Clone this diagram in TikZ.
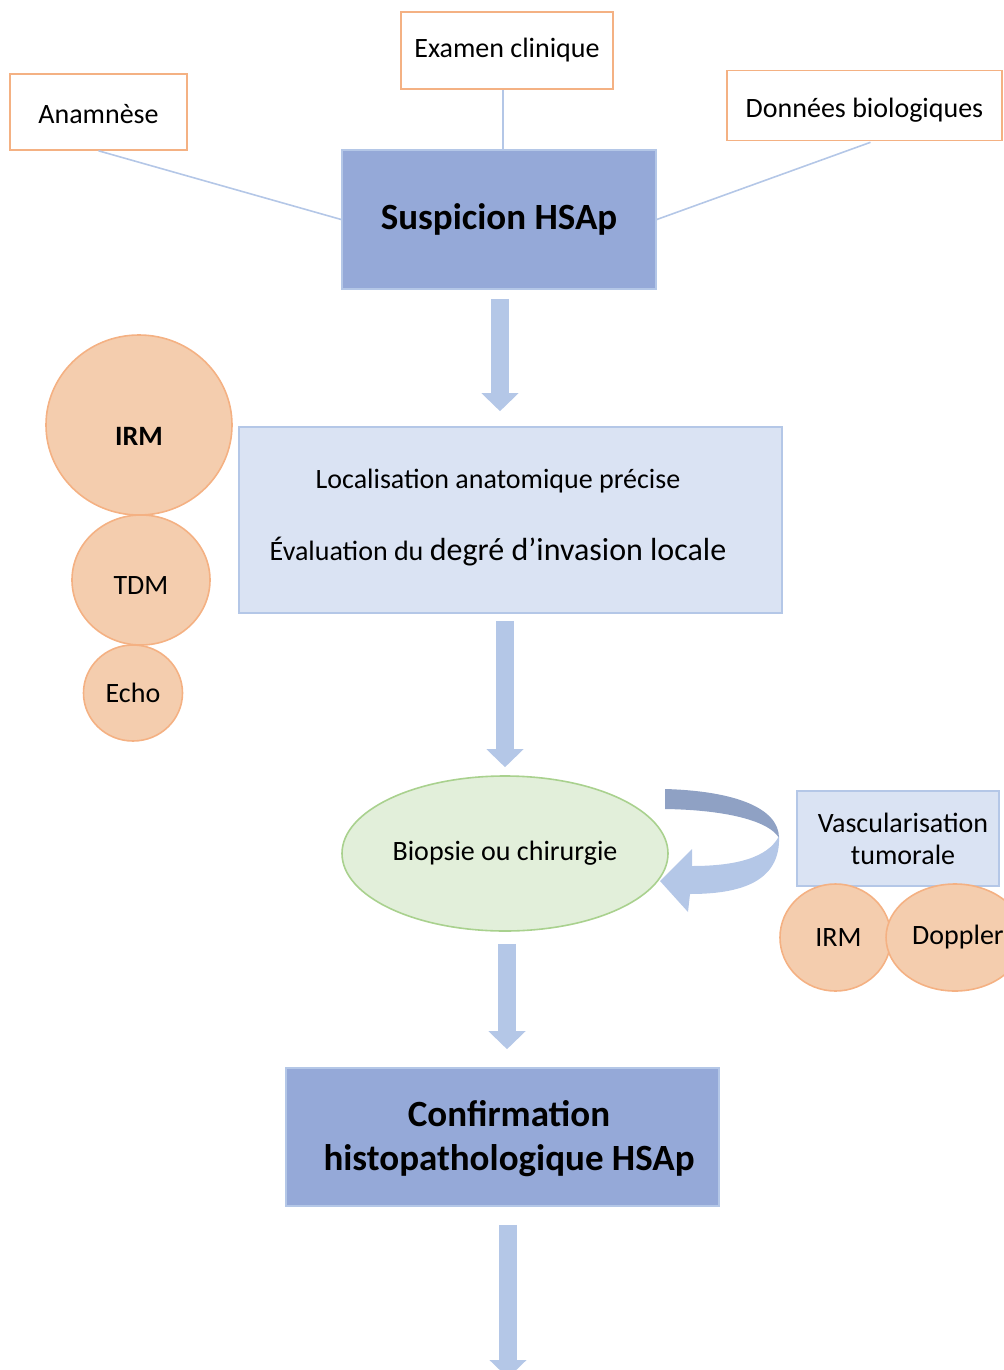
\documentclass[tikz,border=0pt]{standalone}
\usepackage{fontspec}
\setmainfont{Carlito}
\usetikzlibrary{shapes.geometric,arrows.meta,calc}
\definecolor{bleuf}{HTML}{95A9D8}
\definecolor{bleuc}{HTML}{DAE3F3}
\definecolor{bleub}{HTML}{B4C7E7}
\definecolor{bleus}{HTML}{8FA1C4}
\definecolor{orangef}{HTML}{F4CDAE}
\definecolor{oranged}{HTML}{F4B183}
\definecolor{vertf}{HTML}{E2EFDA}
\definecolor{vertd}{HTML}{A9D18E}
\tikzset{
  source/.style={draw=oranged,line width=0.8pt,fill=white,inner sep=0pt,font=\fontsize{14}{17}\selectfont},
  etape/.style={draw=bleub,line width=0.8pt,fill=bleuf,inner sep=0pt,align=center,font=\bfseries\fontsize{18.5}{22}\selectfont},
  infobox/.style={draw=bleub,line width=0.8pt,fill=bleuc,inner sep=0pt,align=center,font=\fontsize{14}{16}\selectfont},
  examen/.style={ellipse,draw=oranged,line width=0.8pt,fill=orangef,inner sep=0pt,font=\fontsize{14}{17}\selectfont},
  liaison/.style={draw=bleub,line width=0.8pt},
  flowarrow/.style={draw=bleub,line width=9pt,-{Triangle[width=18pt,length=9pt]}}
}
\begin{document}
\begin{tikzpicture}[x=0.5pt,y=-0.5pt]
  \useasboundingbox (0,0) rectangle (1003,1370);
  % sources de la suspicion
  \node[source,minimum width=88.5pt,minimum height=38pt,text height=12pt,text depth=0pt] (anam) at (98.5,112) {Anamnèse};
  \node[source,minimum width=106pt,minimum height=38.5pt] (exam) at (507,50.5) {Examen clinique};
  \node[source,minimum width=137.5pt,minimum height=35pt,text height=12pt,text depth=0pt] (donn) at (864.5,105.5) {Données biologiques};
  \node[etape,minimum width=157pt,minimum height=69.5pt] (susp) at (499,219.5) {Suspicion HSAp};
  \draw[liaison] (anam.south) -- (susp.west);
  \draw[liaison] ($(exam.south)+(-4,0)$) -- ($(exam.south |- susp.north)+(-4,0)$);
  \draw[liaison] ($(donn.south)+(6,1)$) -- (susp.east);
  % bilan d'imagerie
  \node[infobox,minimum width=271.5pt,minimum height=93pt] (loc) at (510.5,520) {};
  \node[align=center,inner sep=0pt,font=\fontsize{14}{16}\selectfont] (loctxt) at (498,518)
    {Localisation anatomique précise\\[20pt]
     Évaluation du {\fontsize{16}{19}\selectfont degré d’invasion locale}};
  \node[examen,minimum width=93pt,minimum height=90pt,text height=20pt,text depth=0pt,
    font=\bfseries\fontsize{14}{17}\selectfont] (irm) at (139,425) {IRM};
  \node[examen,minimum width=69pt,minimum height=65pt,text height=14pt,text depth=0pt] (tdm) at (141,580) {TDM};
  \node[examen,minimum width=49.5pt,minimum height=48pt] (echo) at (133,693) {Echo};
  \draw[flowarrow] ($(susp.south)+(1,9)$) -- ($(loc.north)+(-10.5,-15)$);
  % prelevement
  \node[ellipse,draw=vertd,line width=0.8pt,fill=vertf,inner sep=0pt,minimum width=163pt,minimum height=77.5pt,
    font=\fontsize{14}{17}\selectfont] (biop) at (505,853.5) {Biopsie ou chirurgie};
  \node[infobox,minimum width=101pt,minimum height=47.5pt] (vasc) at (898,838.5) {\hspace*{5pt}Vascularisation\\\hspace*{5pt}tumorale};
  \node[examen,minimum width=55.5pt,minimum height=53.5pt] (irmv) at (835.5,937.5) {\hspace*{3pt}IRM};
  \node[examen,minimum width=57pt,minimum height=53.5pt] (dopp) at (955,937.5) {\hspace*{3pt}Doppler};
  \draw[flowarrow] ($(loc.south)+(-5.5,7)$) -- ($(biop.north)+(0,-8)$);
  % fleche courbe
  \fill[bleus] (665,789) .. controls (735,791) and (779,808) .. (779,838)
    .. controls (770,822) and (730,810) .. (665,809) -- cycle;
  \fill[bleub] (779,836) .. controls (781,882) and (740,894) .. (690,894) -- (688,912) -- (660,881)
    -- (692,849) -- (692,866) .. controls (735,866) and (768,858) .. (779,836) -- cycle;
  % confirmation
  \node[etape,minimum width=216.5pt,minimum height=69pt] (conf) at (502.5,1137) {};
  \node[align=center,inner sep=0pt,font=\bfseries\fontsize{18.5}{22}\selectfont] (conftxt) at (509,1139)
    {Confirmation\\histopathologique HSAp};
  \coordinate (fin) at (508,1378);
  \draw[flowarrow] ($(biop.south)+(2,12)$) -- ($(conf.north)+(4.5,-18)$);
  \draw[flowarrow] ($(conf.south)+(5.5,18)$) -- (fin);
\end{tikzpicture}
\end{document}
